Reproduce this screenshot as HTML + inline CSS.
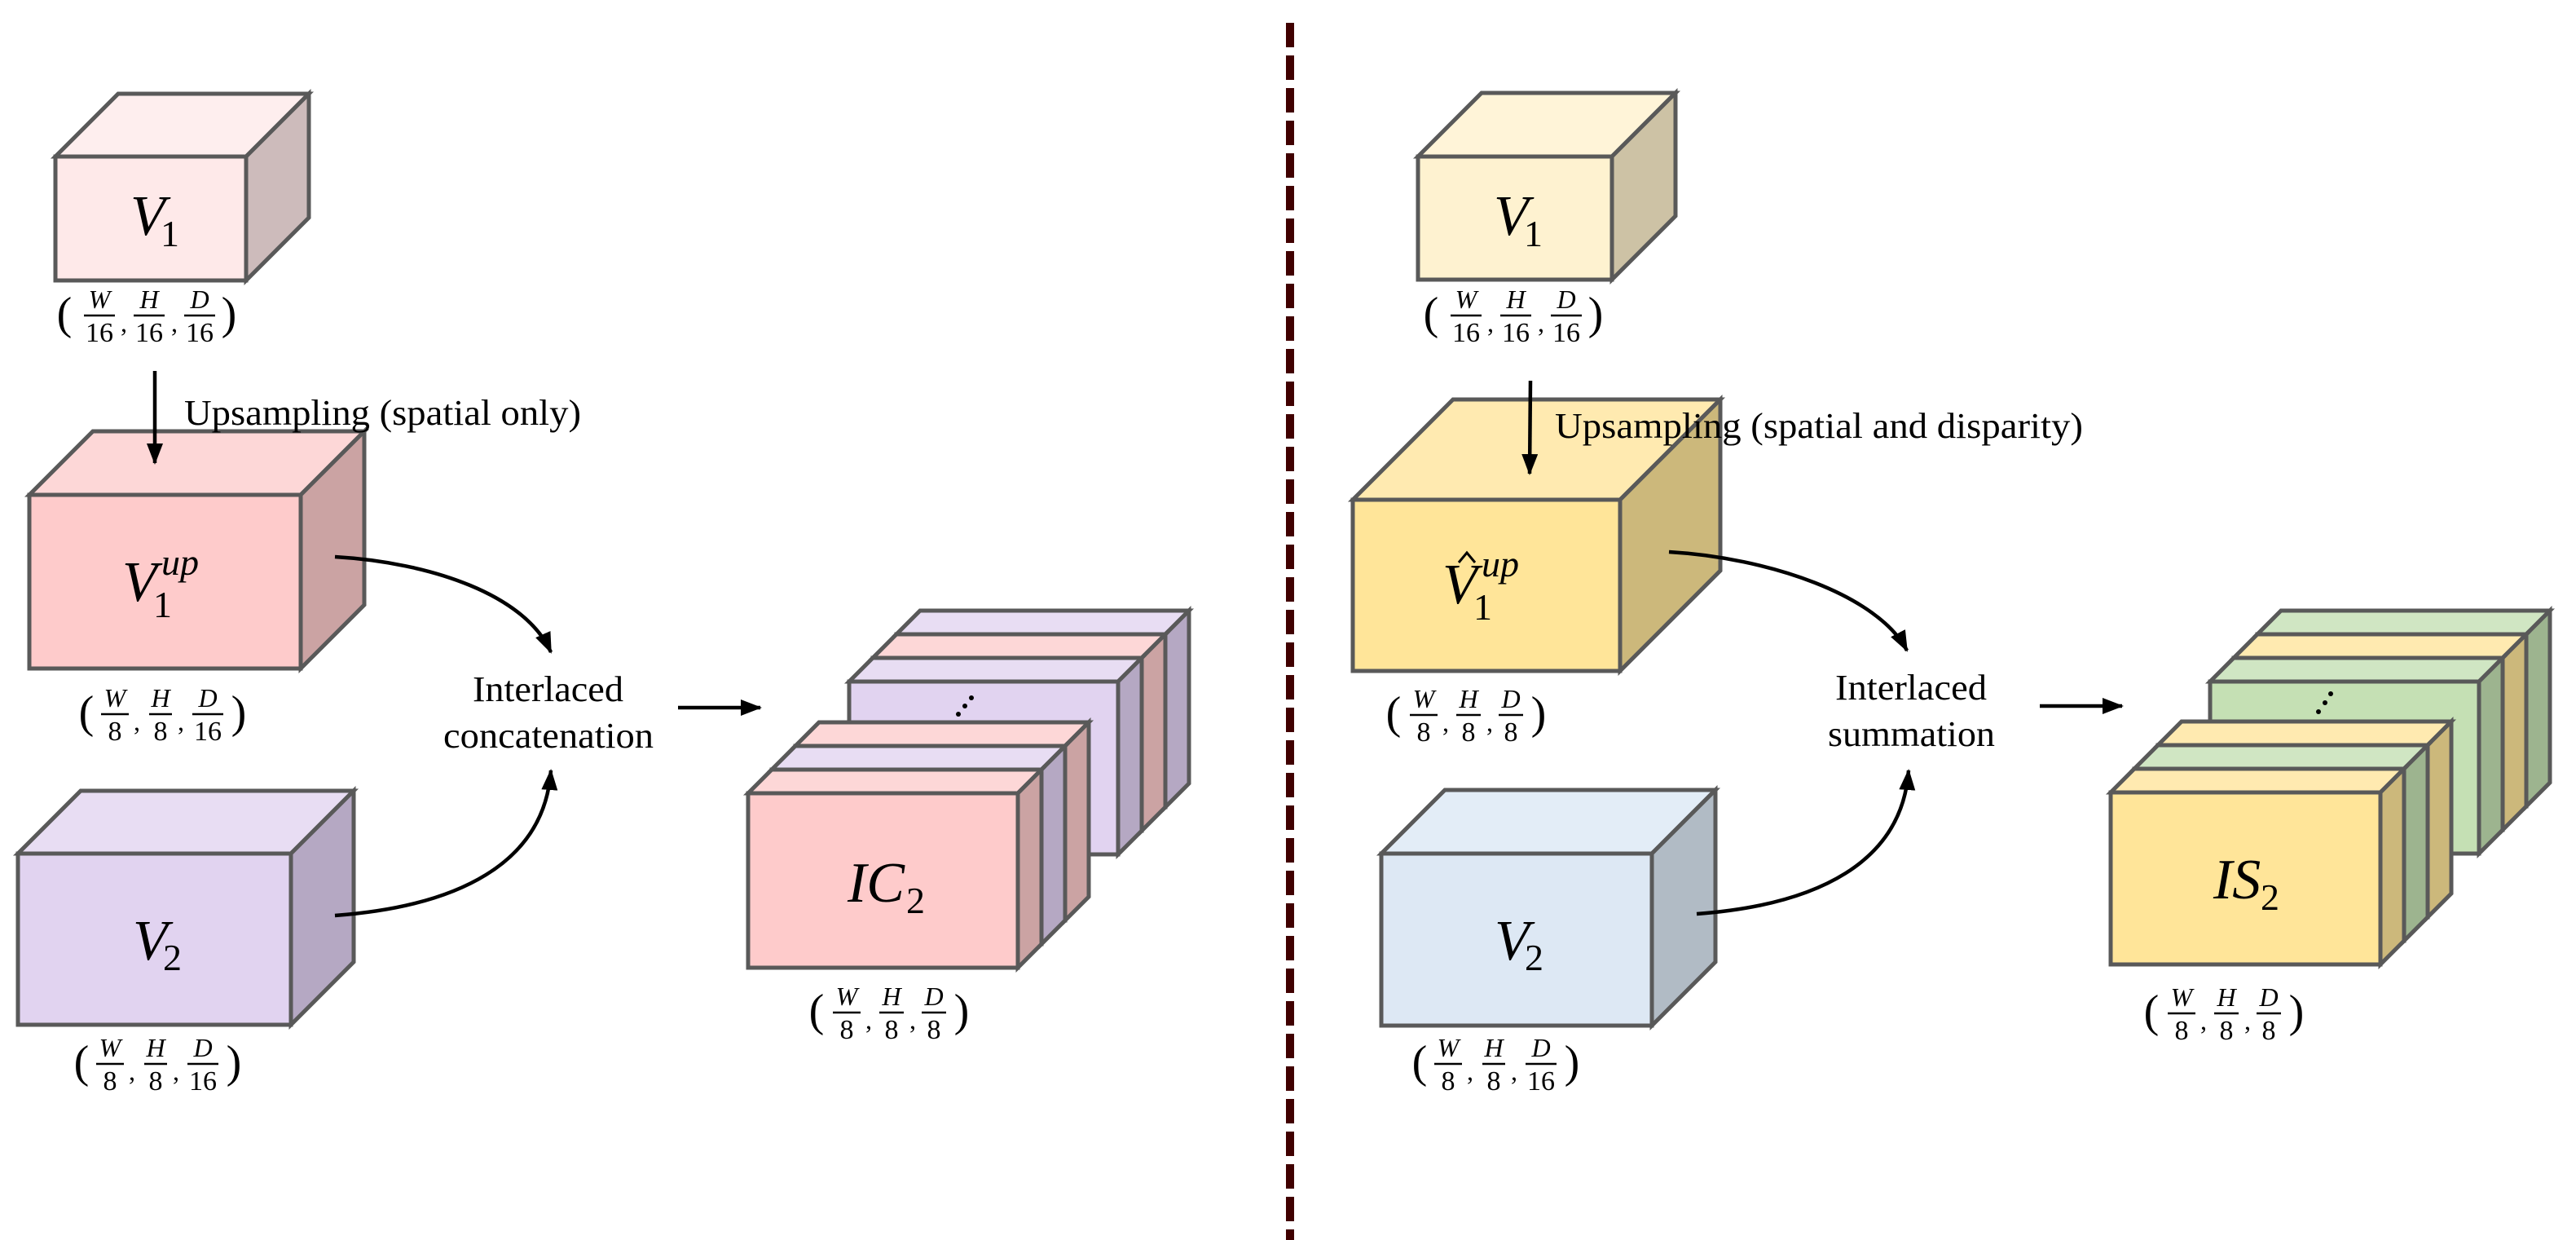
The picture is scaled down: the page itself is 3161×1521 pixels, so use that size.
<!DOCTYPE html>
<html><head><meta charset="utf-8"><style>
html,body{margin:0;padding:0;background:#fff;}
svg{display:block;}
.t{font-family:"Liberation Serif",serif;fill:#000;}
.i{font-style:italic;}
</style></head><body>
<svg width="3161" height="1521" viewBox="0 0 3161 1521" xmlns="http://www.w3.org/2000/svg">
<defs>
<marker id="ah" markerWidth="26" markerHeight="20" refX="24" refY="10" orient="auto" markerUnits="userSpaceOnUse">
<path d="M0,0 L26,10 L0,20 Z" fill="#000"/>
</marker>
</defs>
<g stroke="#595959" stroke-width="5" stroke-linejoin="miter">
<polygon points="68,192 145,115 379,115 302,192" fill="#feeeee"/>
<polygon points="302,192 379,115 379,267 302,344" fill="#cdbbbb"/>
<rect x="68" y="192" width="234" height="152" fill="#fee9e9"/>
<polygon points="36,607 114,529 447,529 369,607" fill="#fdd7d7"/>
<polygon points="369,607 447,529 447,742 369,820" fill="#cba3a3"/>
<rect x="36" y="607" width="333" height="213" fill="#fecbcb"/>
<polygon points="22,1047 99,970 434,970 357,1047" fill="#e8ddf3"/>
<polygon points="357,1047 434,970 434,1180 357,1257" fill="#b5a8c3"/>
<rect x="22" y="1047" width="335" height="210" fill="#e1d3f0"/>

<polygon points="1100,778 1129,749 1459,749 1430,778" fill="#e8ddf3"/><polygon points="1430,778 1459,749 1459,961 1430,990" fill="#b5a8c3"/><rect x="1100" y="778" width="330" height="212" fill="#e1d3f0"/>
<polygon points="1071,807 1100,778 1430,778 1401,807" fill="#fdd7d7"/><polygon points="1401,807 1430,778 1430,990 1401,1019" fill="#cba3a3"/><rect x="1071" y="807" width="330" height="212" fill="#fecbcb"/>
<polygon points="1042,836 1071,807 1401,807 1372,836" fill="#e8ddf3"/><polygon points="1372,836 1401,807 1401,1019 1372,1048" fill="#b5a8c3"/><rect x="1042" y="836" width="330" height="212" fill="#e1d3f0"/>
<polygon points="976,915 1005,886 1336,886 1307,915" fill="#fdd7d7"/><polygon points="1307,915 1336,886 1336,1100 1307,1129" fill="#cba3a3"/><rect x="976" y="915" width="331" height="214" fill="#fecbcb"/>
<polygon points="947,944 976,915 1307,915 1278,944" fill="#e8ddf3"/><polygon points="1278,944 1307,915 1307,1129 1278,1158" fill="#b5a8c3"/><rect x="947" y="944" width="331" height="214" fill="#e1d3f0"/>
<polygon points="918,973 947,944 1278,944 1249,973" fill="#fdd7d7"/><polygon points="1249,973 1278,944 1278,1158 1249,1187" fill="#cba3a3"/><rect x="918" y="973" width="331" height="214" fill="#fecbcb"/>

<polygon points="1740,192 1818,114 2056,114 1978,192" fill="#fff4d8"/>
<polygon points="1978,192 2056,114 2056,265 1978,343" fill="#cdc2a5"/>
<rect x="1740" y="192" width="238" height="151" fill="#fef2d0"/>
<polygon points="1660,613 1783,490 2111,490 1988,613" fill="#ffeab0"/>
<polygon points="1988,613 2111,490 2111,700 1988,823" fill="#ccb87b"/>
<rect x="1660" y="613" width="328" height="210" fill="#ffe599"/>
<polygon points="1695,1047 1773,969 2105,969 2027,1047" fill="#e3edf7"/>
<polygon points="2027,1047 2105,969 2105,1180 2027,1258" fill="#b1bbc5"/>
<rect x="1695" y="1047" width="332" height="211" fill="#dde8f4"/>

<polygon points="2770,778 2799,749 3129,749 3100,778" fill="#d0e6c3"/><polygon points="3100,778 3129,749 3129,960 3100,989" fill="#9db48f"/><rect x="2770" y="778" width="330" height="211" fill="#c5e0b4"/>
<polygon points="2741,807 2770,778 3100,778 3071,807" fill="#ffeab0"/><polygon points="3071,807 3100,778 3100,989 3071,1018" fill="#ccb87b"/><rect x="2741" y="807" width="330" height="211" fill="#ffe599"/>
<polygon points="2712,836 2741,807 3071,807 3042,836" fill="#d0e6c3"/><polygon points="3042,836 3071,807 3071,1018 3042,1047" fill="#9db48f"/><rect x="2712" y="836" width="330" height="211" fill="#c5e0b4"/>
<polygon points="2648,914 2677,885 3008,885 2979,914" fill="#ffeab0"/><polygon points="2979,914 3008,885 3008,1096 2979,1125" fill="#ccb87b"/><rect x="2648" y="914" width="331" height="211" fill="#ffe599"/>
<polygon points="2619,943 2648,914 2979,914 2950,943" fill="#d0e6c3"/><polygon points="2950,943 2979,914 2979,1125 2950,1154" fill="#9db48f"/><rect x="2619" y="943" width="331" height="211" fill="#c5e0b4"/>
<polygon points="2590,972 2619,943 2950,943 2921,972" fill="#ffeab0"/><polygon points="2921,972 2950,943 2950,1154 2921,1183" fill="#ccb87b"/><rect x="2590" y="972" width="331" height="211" fill="#ffe599"/>
</g>

<g fill="#000">
<circle cx="1176" cy="876" r="3"/><circle cx="1184" cy="866" r="3"/><circle cx="1192" cy="856" r="3"/>
<circle cx="2845" cy="873" r="3"/><circle cx="2853" cy="862" r="3"/><circle cx="2860" cy="851" r="3"/>
</g>

<line x1="1583" y1="28" x2="1583" y2="1521" stroke="#400000" stroke-width="10" stroke-dasharray="30,10"/>

<g stroke="#000" stroke-width="4.5" fill="none" marker-end="url(#ah)">
<line x1="190" y1="455" x2="190" y2="568"/>
<line x1="1878" y1="467" x2="1877" y2="581"/>
<line x1="832" y1="868" x2="933" y2="868"/>
<line x1="2503" y1="866" x2="2604" y2="866"/>
<path d="M411,683 C530,690 645,730 676,800"/>
<path d="M411,1123 C560,1112 668,1060 676,945"/>
<path d="M2048,677 C2170,684 2305,730 2340,798"/>
<path d="M2082,1121 C2230,1110 2334,1058 2342,945"/>
</g>
<path d="M1790,690 L1800,678 L1810,690" stroke="#000" stroke-width="3" fill="none"/>

<g class="t">
<text x="226" y="521" font-size="44" textLength="487" lengthAdjust="spacingAndGlyphs">Upsampling (spatial only)</text>
<text x="1908" y="537" font-size="44" textLength="648" lengthAdjust="spacingAndGlyphs">Upsampling (spatial and disparity)</text>
<text x="580" y="860" font-size="44" textLength="185" lengthAdjust="spacingAndGlyphs">Interlaced</text>
<text x="544" y="917" font-size="44" textLength="258" lengthAdjust="spacingAndGlyphs">concatenation</text>
<text x="2252" y="858" font-size="44" textLength="186" lengthAdjust="spacingAndGlyphs">Interlaced</text>
<text x="2243" y="915" font-size="44" textLength="205" lengthAdjust="spacingAndGlyphs">summation</text>

<text x="160" y="288" font-size="70" class="i">V</text><text x="197" y="302" font-size="46">1</text>
<text x="150" y="737" font-size="70" class="i">V</text><text x="188" y="757" font-size="46">1</text><text x="198" y="705" font-size="46" class="i">up</text>
<text x="163" y="1177" font-size="70" class="i">V</text><text x="200" y="1190" font-size="46">2</text>
<text x="1040" y="1106" font-size="70" class="i">IC</text><text x="1112" y="1120" font-size="46">2</text>
<text x="1833" y="288" font-size="70" class="i">V</text><text x="1870" y="302" font-size="46">1</text>
<text x="1770" y="740" font-size="70" class="i">V</text><text x="1808" y="760" font-size="46">1</text><text x="1818" y="707" font-size="46" class="i">up</text>
<text x="1834" y="1177" font-size="70" class="i">V</text><text x="1871" y="1190" font-size="46">2</text>
<text x="2716" y="1102" font-size="70" class="i">IS</text><text x="2774" y="1116" font-size="46">2</text>
</g>

<g class="t" font-size="32" text-anchor="middle">
<g transform="translate(183,387)">
<text x="-104" y="16" font-size="56">(</text><text x="98" y="16" font-size="56">)</text>
<text x="-61" y="-9" class="i">W</text><line x1="-80" y1="0" x2="-42" y2="0" stroke="#000" stroke-width="2.5"/><text x="-61" y="32" font-size="34">16</text>
<text x="-31" y="20">,</text>
<text x="0" y="-9" class="i">H</text><line x1="-19" y1="0" x2="19" y2="0" stroke="#000" stroke-width="2.5"/><text x="0" y="32" font-size="34">16</text>
<text x="31" y="20">,</text>
<text x="62" y="-9" class="i">D</text><line x1="43" y1="0" x2="81" y2="0" stroke="#000" stroke-width="2.5"/><text x="62" y="32" font-size="34">16</text>
</g>
<g transform="translate(1860,387)">
<text x="-104" y="16" font-size="56">(</text><text x="98" y="16" font-size="56">)</text>
<text x="-61" y="-9" class="i">W</text><line x1="-80" y1="0" x2="-42" y2="0" stroke="#000" stroke-width="2.5"/><text x="-61" y="32" font-size="34">16</text>
<text x="-31" y="20">,</text>
<text x="0" y="-9" class="i">H</text><line x1="-19" y1="0" x2="19" y2="0" stroke="#000" stroke-width="2.5"/><text x="0" y="32" font-size="34">16</text>
<text x="31" y="20">,</text>
<text x="62" y="-9" class="i">D</text><line x1="43" y1="0" x2="81" y2="0" stroke="#000" stroke-width="2.5"/><text x="62" y="32" font-size="34">16</text>
</g>
<g transform="translate(197,876)">
<text x="-91" y="16" font-size="56">(</text><text x="96" y="16" font-size="56">)</text>
<text x="-56" y="-9" class="i">W</text><line x1="-73" y1="0" x2="-39" y2="0" stroke="#000" stroke-width="2.5"/><text x="-56" y="32" font-size="34">8</text>
<text x="-29" y="20">,</text>
<text x="0" y="-9" class="i">H</text><line x1="-14" y1="0" x2="14" y2="0" stroke="#000" stroke-width="2.5"/><text x="0" y="32" font-size="34">8</text>
<text x="25" y="20">,</text>
<text x="58" y="-9" class="i">D</text><line x1="39" y1="0" x2="77" y2="0" stroke="#000" stroke-width="2.5"/><text x="58" y="32" font-size="34">16</text>
</g>
<g transform="translate(191,1305)">
<text x="-91" y="16" font-size="56">(</text><text x="96" y="16" font-size="56">)</text>
<text x="-56" y="-9" class="i">W</text><line x1="-73" y1="0" x2="-39" y2="0" stroke="#000" stroke-width="2.5"/><text x="-56" y="32" font-size="34">8</text>
<text x="-29" y="20">,</text>
<text x="0" y="-9" class="i">H</text><line x1="-14" y1="0" x2="14" y2="0" stroke="#000" stroke-width="2.5"/><text x="0" y="32" font-size="34">8</text>
<text x="25" y="20">,</text>
<text x="58" y="-9" class="i">D</text><line x1="39" y1="0" x2="77" y2="0" stroke="#000" stroke-width="2.5"/><text x="58" y="32" font-size="34">16</text>
</g>
<g transform="translate(1833,1305)">
<text x="-91" y="16" font-size="56">(</text><text x="96" y="16" font-size="56">)</text>
<text x="-56" y="-9" class="i">W</text><line x1="-73" y1="0" x2="-39" y2="0" stroke="#000" stroke-width="2.5"/><text x="-56" y="32" font-size="34">8</text>
<text x="-29" y="20">,</text>
<text x="0" y="-9" class="i">H</text><line x1="-14" y1="0" x2="14" y2="0" stroke="#000" stroke-width="2.5"/><text x="0" y="32" font-size="34">8</text>
<text x="25" y="20">,</text>
<text x="58" y="-9" class="i">D</text><line x1="39" y1="0" x2="77" y2="0" stroke="#000" stroke-width="2.5"/><text x="58" y="32" font-size="34">16</text>
</g>
<g transform="translate(1090,1242)">
<text x="-88" y="16" font-size="56">(</text><text x="90" y="16" font-size="56">)</text>
<text x="-51" y="-9" class="i">W</text><line x1="-68" y1="0" x2="-34" y2="0" stroke="#000" stroke-width="2.5"/><text x="-51" y="32" font-size="34">8</text>
<text x="-24" y="20">,</text>
<text x="4" y="-9" class="i">H</text><line x1="-11" y1="0" x2="19" y2="0" stroke="#000" stroke-width="2.5"/><text x="4" y="32" font-size="34">8</text>
<text x="30" y="20">,</text>
<text x="56" y="-9" class="i">D</text><line x1="41" y1="0" x2="71" y2="0" stroke="#000" stroke-width="2.5"/><text x="56" y="32" font-size="34">8</text>
</g>
<g transform="translate(1798,877)">
<text x="-88" y="16" font-size="56">(</text><text x="90" y="16" font-size="56">)</text>
<text x="-51" y="-9" class="i">W</text><line x1="-68" y1="0" x2="-34" y2="0" stroke="#000" stroke-width="2.5"/><text x="-51" y="32" font-size="34">8</text>
<text x="-24" y="20">,</text>
<text x="4" y="-9" class="i">H</text><line x1="-11" y1="0" x2="19" y2="0" stroke="#000" stroke-width="2.5"/><text x="4" y="32" font-size="34">8</text>
<text x="30" y="20">,</text>
<text x="56" y="-9" class="i">D</text><line x1="41" y1="0" x2="71" y2="0" stroke="#000" stroke-width="2.5"/><text x="56" y="32" font-size="34">8</text>
</g>
<g transform="translate(2728,1243)">
<text x="-88" y="16" font-size="56">(</text><text x="90" y="16" font-size="56">)</text>
<text x="-51" y="-9" class="i">W</text><line x1="-68" y1="0" x2="-34" y2="0" stroke="#000" stroke-width="2.5"/><text x="-51" y="32" font-size="34">8</text>
<text x="-24" y="20">,</text>
<text x="4" y="-9" class="i">H</text><line x1="-11" y1="0" x2="19" y2="0" stroke="#000" stroke-width="2.5"/><text x="4" y="32" font-size="34">8</text>
<text x="30" y="20">,</text>
<text x="56" y="-9" class="i">D</text><line x1="41" y1="0" x2="71" y2="0" stroke="#000" stroke-width="2.5"/><text x="56" y="32" font-size="34">8</text>
</g>
</g>
</svg>
</body></html>
